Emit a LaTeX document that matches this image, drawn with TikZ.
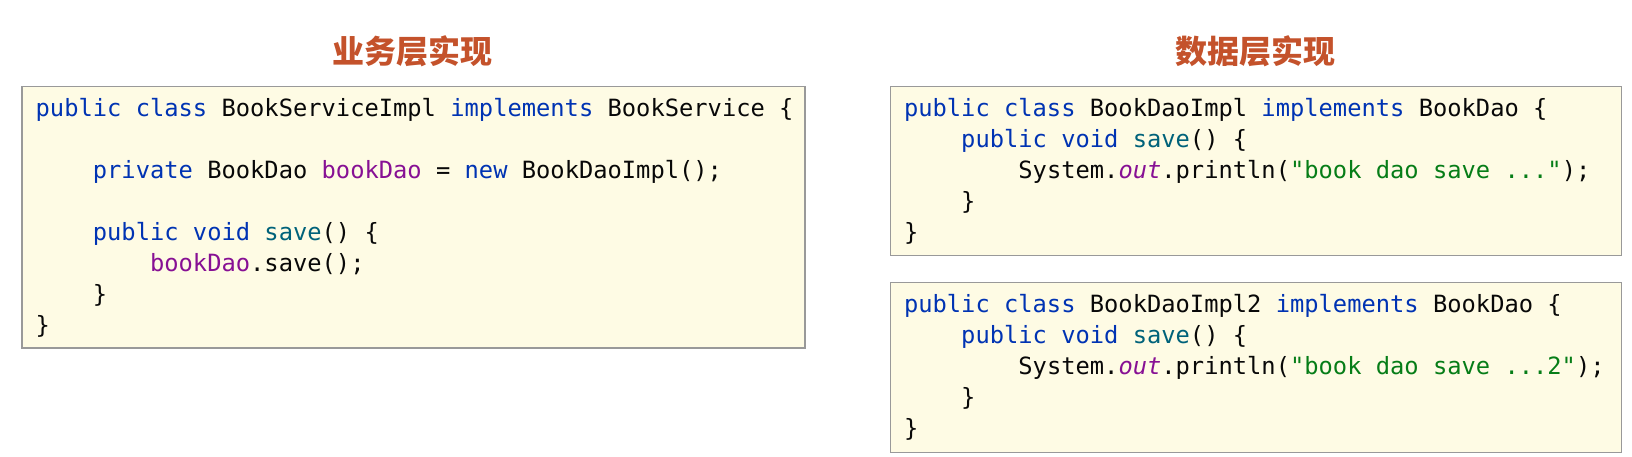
\documentclass[tikz,border=0pt]{standalone}
\usepackage{fontspec}
\newfontfamily\codefont{DejaVu Sans Mono}
\newfontfamily\cjk{Noto Sans CJK SC}
\definecolor{kwblue}{HTML}{0033B3}
\definecolor{methteal}{HTML}{00627A}
\definecolor{fldpurple}{HTML}{871094}
\definecolor{strgreen}{HTML}{067D17}
\definecolor{codeblack}{HTML}{080808}
\definecolor{titlered}{HTML}{C4522B}
\definecolor{boxfill}{HTML}{FEFBE4}
\definecolor{boxline}{HTML}{999999}
\newcommand\jkw[1]{\textcolor{kwblue}{#1}}
\newcommand\jmeth[1]{\textcolor{methteal}{#1}}
\newcommand\jfld[1]{\textcolor{fldpurple}{#1}}
\newcommand\jstr[1]{\textcolor{strgreen}{#1}}
\tikzset{
  codebox/.style={draw=boxline, fill=boxfill, line width=1.5pt, inner sep=0pt, outer sep=0pt, anchor=north west},
  codeline/.style={anchor=base west, inner sep=0pt, outer sep=0pt, text=codeblack, font=\codefont\fontsize{23.75}{28}\selectfont},
  titletext/.style={inner sep=0pt, text=titlered, font=\cjk\bfseries\fontsize{32}{36}\selectfont}
}
\begin{document}
\begin{tikzpicture}[x=1pt,y=-1pt]
\useasboundingbox (0,0) rectangle (1632,457);
\fill[white] (0,0) rectangle (1632,457);

% titles
\node[titletext] (t1) at (412.5,51.5) {业务层实现};
\node[titletext] (t2) at (1255,51.5) {数据层实现};

% boxes
\node[codebox, minimum width=783pt, minimum height=261.3pt] (svc) at (22,86.7) {};
\node[codebox, minimum width=731pt, minimum height=169pt] (dao1) at (890.7,86.7) {};
\node[codebox, minimum width=731pt, minimum height=169.6pt] (dao2) at (890.7,282.7) {};

% service implementation
\node[codeline] (s1) at (35.7,116.5) {\jkw{public class} BookServiceImpl \jkw{implements} BookService \{};
\node[codeline] (s2) at (92.9,178.5) {\jkw{private} BookDao \jfld{bookDao} = \jkw{new} BookDaoImpl();};
\node[codeline] (s3) at (92.9,240.5) {\jkw{public void} \jmeth{save}() \{};
\node[codeline] (s4) at (150.1,271.5) {\jfld{bookDao}.save();};
\node[codeline] (s5) at (92.9,302.5) {\}};
\node[codeline] (s6) at (35.7,333.5) {\}};

% dao implementation 1
\node[codeline] (a1) at (904,116.5) {\jkw{public class} BookDaoImpl \jkw{implements} BookDao \{};
\node[codeline] (a2) at (961.2,147.5) {\jkw{public void} \jmeth{save}() \{};
\node[codeline] (a3) at (1018.4,178.5) {System.\jfld{\itshape out}.println(\jstr{"book dao save ..."});};
\node[codeline] (a4) at (961.2,209.5) {\}};
\node[codeline] (a5) at (904,240.5) {\}};

% dao implementation 2
\node[codeline] (b1) at (904,312.3) {\jkw{public class} BookDaoImpl2 \jkw{implements} BookDao \{};
\node[codeline] (b2) at (961.2,343.3) {\jkw{public void} \jmeth{save}() \{};
\node[codeline] (b3) at (1018.4,374.3) {System.\jfld{\itshape out}.println(\jstr{"book dao save ...2"});};
\node[codeline] (b4) at (961.2,405.3) {\}};
\node[codeline] (b5) at (904,436.3) {\}};
\end{tikzpicture}
\end{document}
